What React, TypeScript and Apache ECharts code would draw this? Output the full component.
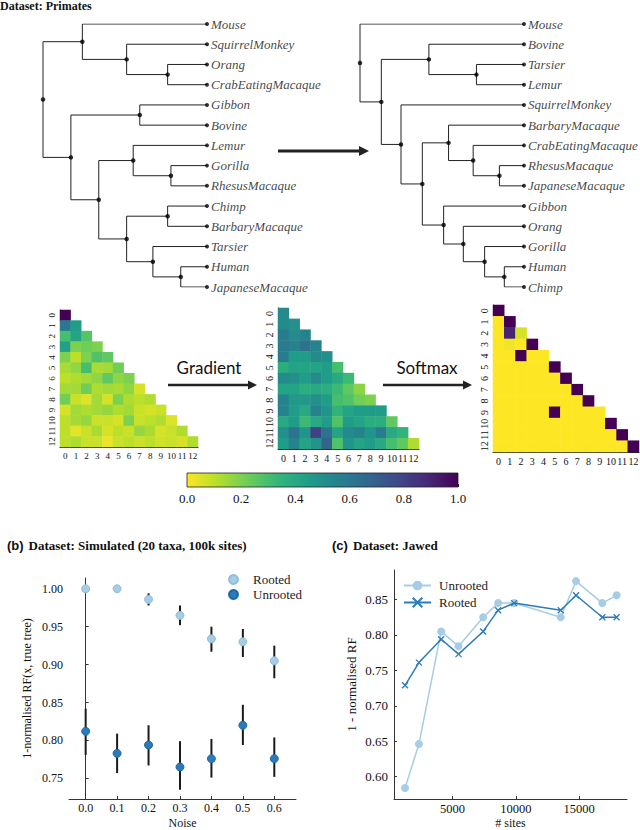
import React, { useEffect, useRef } from 'react';
import * as echarts from 'echarts';

// ---------- data ----------
type T = string | [number, T, T];
// [branch depth (0 = root, 1 = leaves), child, child]
const TREE_BEFORE: T = [0,
  [0.24, 'Mouse', [0.51, 'SquirrelMonkey', [0.76, 'Orang', 'CrabEatingMacaque']]],
  [0.17, [0.59, 'Gibbon', 'Bovine'],
    [0.34, [0.55, 'Lemur', [0.78, 'Gorilla', 'RhesusMacaque']],
      [0.51, [0.76, 'Chimp', 'BarbaryMacaque'], [0.67, 'Tarsier', [0.84, 'Human', 'JapaneseMacaque']]]]]];
const TREE_AFTER: T = [0, 'Mouse',
  [0.13, [0.42, 'Bovine', [0.71, 'Tarsier', 'Lemur']],
    [0.25, 'SquirrelMonkey',
      [0.38, [0.54, 'BarbaryMacaque', [0.69, 'CrabEatingMacaque', [0.85, 'RhesusMacaque', 'JapaneseMacaque']]],
        [0.51, 'Gibbon', [0.63, 'Orang', [0.76, 'Gorilla', [0.88, 'Human', 'Chimp']]]]]]]];

const HEAT_LABELS = ['0', '1', '2', '3', '4', '5', '6', '7', '8', '9', '10', '11', '12'];
const HEAT_INPUT = [
  [1.0],
  [0.6, 0.45],
  [0.3, 0.42, 0.27],
  [0.43, 0.2, 0.22, 0.2],
  [0.2, 0.1, 0.2, 0.28, 0.25],
  [0.13, 0.17, 0.3, 0.13, 0.14, 0.22],
  [0.1, 0.12, 0.14, 0.17, 0.25, 0.17, 0.2],
  [0.14, 0.14, 0.22, 0.12, 0.14, 0.13, 0.17, 0.06],
  [0.22, 0.08, 0.05, 0.14, 0.06, 0.2, 0.12, 0.1, 0.12],
  [0.06, 0.14, 0.12, 0.14, 0.16, 0.12, 0.14, 0.08, 0.06, 0.08],
  [0.1, 0.14, 0.16, 0.08, 0.08, 0.06, 0.2, 0.08, 0.1, 0.12, 0.05],
  [0.1, 0.04, 0.08, 0.13, 0.06, 0.1, 0.08, 0.16, 0.13, 0.06, 0.08, 0.12],
  [0.1, 0.12, 0.08, 0.08, 0.03, 0.08, 0.1, 0.08, 0.1, 0.07, 0.08, 0.06, 0.12],
];
const HEAT_GRADIENT = [
  [0.52],
  [0.52, 0.5],
  [0.58, 0.52, 0.55],
  [0.58, 0.55, 0.62, 0.55],
  [0.58, 0.45, 0.45, 0.52, 0.5],
  [0.38, 0.42, 0.42, 0.42, 0.45, 0.3],
  [0.52, 0.5, 0.45, 0.52, 0.45, 0.4, 0.32],
  [0.42, 0.42, 0.38, 0.4, 0.38, 0.32, 0.25, 0.18],
  [0.55, 0.47, 0.47, 0.5, 0.45, 0.3, 0.28, 0.22, 0.2],
  [0.55, 0.45, 0.4, 0.55, 0.48, 0.35, 0.42, 0.45, 0.45, 0.45],
  [0.4, 0.45, 0.32, 0.4, 0.45, 0.28, 0.45, 0.42, 0.38, 0.38, 0.25],
  [0.5, 0.62, 0.48, 0.8, 0.62, 0.42, 0.52, 0.55, 0.48, 0.58, 0.4, 0.35],
  [0.45, 0.55, 0.42, 0.48, 0.68, 0.28, 0.48, 0.42, 0.45, 0.4, 0.3, 0.25, 0.12],
];
const HEAT_SOFTMAX = [
  [1],
  [0, 1],
  [0, 0.9, 0.06],
  [0, 0.02, 0, 1],
  [0, 0, 1, 0, 0],
  [0, 0, 0, 0, 0, 1],
  [0, 0, 0, 0, 0, 0, 1],
  [0, 0, 0, 0, 0, 0, 0, 1],
  [0, 0, 0, 0, 0, 0, 0, 0, 1],
  [0, 0, 0, 0, 0, 1, 0, 0, 0, 0],
  [0, 0, 0, 0, 0, 0, 0, 0, 0, 0, 1],
  [0, 0, 0, 0, 0, 0, 0, 0, 0, 0, 0, 1],
  [0, 0, 0, 0, 0, 0, 0, 0, 0, 0, 0, 0, 1],
];
const VIRIDIS_R = ['#fde725', '#b5de2b', '#6ece58', '#35b779', '#1f9e89', '#26828e', '#31688e', '#3e4989', '#482878', '#440154'];

const NOISE = [0, 0.1, 0.2, 0.3, 0.4, 0.5, 0.6];
const ROOTED_MEAN = [1.0, 1.0, 0.986, 0.965, 0.934, 0.93, 0.905];
const ROOTED_LOW = [1.0, 1.0, 0.978, 0.952, 0.917, 0.91, 0.882];
const ROOTED_HIGH = [1.0, 1.0, 0.994, 0.978, 0.95, 0.947, 0.925];
const UNROOTED_MEAN = [0.812, 0.783, 0.794, 0.765, 0.776, 0.82, 0.776];
const UNROOTED_LOW = [0.781, 0.757, 0.767, 0.735, 0.751, 0.794, 0.752];
const UNROOTED_HIGH = [0.842, 0.809, 0.82, 0.799, 0.802, 0.847, 0.804];
const NOISE_TICKS = [0, 0.1, 0.2, 0.3, 0.4, 0.5, 0.6];
const RF_TICKS_B = [0.75, 0.8, 0.85, 0.9, 0.95, 1.0];

const SITES = [1240, 2340, 4100, 5470, 7420, 8600, 9870, 13550, 14760, 16840, 17970];
const JAWED_UNROOTED = [0.584, 0.646, 0.805, 0.784, 0.825, 0.845, 0.845, 0.825, 0.876, 0.845, 0.856];
const JAWED_ROOTED = [0.729, 0.761, 0.794, 0.773, 0.805, 0.835, 0.845, 0.835, 0.856, 0.825, 0.825];
const SITE_TICKS = [5000, 10000, 15000];
const RF_TICKS_C = [0.6, 0.65, 0.7, 0.75, 0.8, 0.85];

// ---------- helpers ----------
const SERIF = 'Liberation Serif, DejaVu Serif, serif';
const LIGHT = '#a6cde4';
const DARK = '#2b7bba';

function layoutTree(t: T) {
  const edges: number[][][] = [];
  const nodes: number[][] = [];
  const leaves: any[][] = [];
  let idx = 0;
  const rec = (n: T): number[] => {
    if (typeof n === 'string') {
      const p = [1, idx++];
      leaves.push([p[0], p[1], n]);
      return p;
    }
    const [d, a, b] = n;
    const pa = rec(a);
    const pb = rec(b);
    const y = (pa[1] + pb[1]) / 2;
    edges.push([[d, y], [d, pa[1]], [pa[0], pa[1]]]);
    edges.push([[d, y], [d, pb[1]], [pb[0], pb[1]]]);
    nodes.push([d, y]);
    return [d, y];
  };
  rec(t);
  return { edges, nodes, leaves };
}

function triData(rows: number[][]) {
  const out: number[][] = [];
  rows.forEach((r, i) => r.forEach((v, j) => out.push([j, i, v])));
  return out;
}

function buildOption() {
  const grids: any[] = [];
  const xAxes: any[] = [];
  const yAxes: any[] = [];
  const series: any[] = [];

  const addGrid = (g: any) => {
    grids.push({ ...g, containLabel: false, outerBoundsMode: 'none' });
    return grids.length - 1;
  };

  // ---- trees ----
  const treeGrid = (left: number, tree: T) => {
    const gi = addGrid({ left, top: 24, width: 164, height: 263 });
    xAxes.push({ gridIndex: gi, type: 'value', min: 0, max: 1, show: false });
    yAxes.push({ gridIndex: gi, type: 'value', min: 0, max: 13, inverse: true, show: false });
    const ai = xAxes.length - 1;
    const lay = layoutTree(tree);
    series.push({
      type: 'lines', coordinateSystem: 'cartesian2d', xAxisIndex: ai, yAxisIndex: ai,
      polyline: true, silent: true,
      lineStyle: { color: '#222', width: 1, opacity: 1 },
      data: lay.edges.map((c) => ({ coords: c })),
    });
    series.push({
      type: 'scatter', xAxisIndex: ai, yAxisIndex: ai, symbolSize: 4.5, clip: false, silent: true,
      itemStyle: { color: '#000' }, data: lay.nodes,
    });
    series.push({
      type: 'scatter', xAxisIndex: ai, yAxisIndex: ai, symbolSize: 4, clip: false, silent: true,
      itemStyle: { color: '#000' }, data: lay.leaves,
      label: {
        show: true, position: 'right', distance: 2, formatter: (p: any) => p.data[2],
        fontFamily: 'Liberation Serif', fontStyle: 'italic', fontSize: 13, color: '#111',
      },
    });
  };
  treeGrid(43, TREE_BEFORE);
  treeGrid(360, TREE_AFTER);

  // ---- heatmaps ----
  const heatIdx: number[] = [];
  const heat = (rect: any, rows: number[][], fs: number) => {
    const gi = addGrid(rect);
    const common = {
      gridIndex: gi, type: 'category', data: HEAT_LABELS,
      axisLine: { show: true, lineStyle: { color: '#222', width: 1 } },
      axisTick: { show: true, inside: true, length: 2, alignWithLabel: true, lineStyle: { color: '#222' } },
      splitLine: { show: false },
    };
    xAxes.push({ ...common, axisLabel: { interval: 0, hideOverlap: false, margin: 4, fontFamily: SERIF, fontSize: fs, color: '#111' } });
    yAxes.push({ ...common, inverse: true, axisLabel: { interval: 0, hideOverlap: false, rotate: 90, margin: 4, fontFamily: SERIF, fontSize: fs, color: '#111' } });
    const ai = xAxes.length - 1;
    series.push({ type: 'heatmap', xAxisIndex: ai, yAxisIndex: ai, silent: true, data: triData(rows) });
    heatIdx.push(series.length - 1);
  };
  heat({ left: 60, top: 310, width: 138, height: 137 }, HEAT_INPUT, 9);
  heat({ left: 278, top: 308, width: 141, height: 141 }, HEAT_GRADIENT, 10);
  heat({ left: 493, top: 305, width: 146, height: 147 }, HEAT_SOFTMAX, 10);

  // ---- colorbar ----
  {
    const gi = addGrid({ left: 187, top: 473, width: 271, height: 14 });
    xAxes.push({
      gridIndex: gi, type: 'value', min: 0, max: 1, interval: 0.2,
      axisLine: { show: false }, splitLine: { show: false },
      axisTick: { show: true, inside: true, length: 3, lineStyle: { color: '#222' } },
      minorTick: { show: true, splitNumber: 4, length: 3, lineStyle: { color: '#222' } },
      axisLabel: { margin: 5, fontFamily: SERIF, fontSize: 13, color: '#111', formatter: (v: number) => v.toFixed(1) },
    });
    yAxes.push({ gridIndex: gi, type: 'value', min: 0, max: 1, show: false });
    const ai = xAxes.length - 1;
    series.push({
      type: 'custom', xAxisIndex: ai, yAxisIndex: ai, silent: true, z: 1,
      data: [[0, 0]],
      renderItem: (_p: any, api: any) => {
        const a = api.coord([0, 1]);
        const b = api.coord([1, 0]);
        return {
          type: 'rect',
          shape: { x: a[0], y: a[1], width: b[0] - a[0], height: b[1] - a[1] },
          style: {
            fill: new echarts.graphic.LinearGradient(0, 0, 1, 0,
              VIRIDIS_R.map((c, i) => ({ offset: i / (VIRIDIS_R.length - 1), color: c }))),
            stroke: '#222', lineWidth: 0.8,
          },
        };
      },
    });
  }

  // ---- chart (b) ----
  const axisCommon = () => ({
    axisLine: { show: true, lineStyle: { color: '#333', width: 1 } },
    splitLine: { show: false },
    nameMoveOverlap: false,
    nameTextStyle: { fontFamily: SERIF, fontSize: 12, color: '#111' },
  });
  {
    const gi = addGrid({ left: 69, top: 578, width: 227, height: 221 });
    xAxes.push({
      gridIndex: gi, type: 'value', min: -0.053, max: 0.669, ...axisCommon(),
      name: 'Noise', nameLocation: 'middle', nameGap: 17.5,
      axisTick: { show: true, inside: true, length: 3, customValues: NOISE_TICKS, lineStyle: { color: '#333' } },
      axisLabel: { customValues: NOISE_TICKS, margin: 3, fontFamily: SERIF, fontSize: 12, color: '#111', formatter: (v: number) => v.toFixed(1) },
    });
    yAxes.push({
      gridIndex: gi, type: 'value', min: 0.7228, max: 1.0142, ...axisCommon(),
      name: '1-normalised RF(x, true tree)', nameLocation: 'middle', nameGap: 36, nameRotate: 90,
      axisTick: { show: true, inside: true, length: 3, customValues: RF_TICKS_B, lineStyle: { color: '#333' } },
      axisLabel: { customValues: RF_TICKS_B, margin: 6, fontFamily: SERIF, fontSize: 12, color: '#111', formatter: (v: number) => v.toFixed(2) },
    });
    const ai = xAxes.length - 1;
    const errRender = (_p: any, api: any) => {
      const lo = api.coord([api.value(0), api.value(1)]);
      const hi = api.coord([api.value(0), api.value(2)]);
      return { type: 'line', shape: { x1: lo[0], y1: lo[1], x2: hi[0], y2: hi[1] }, style: { stroke: '#1a1a1a', lineWidth: 2 } };
    };
    series.push({
      type: 'custom', xAxisIndex: ai, yAxisIndex: ai, silent: true, renderItem: errRender,
      data: NOISE.map((x, i) => [x, ROOTED_LOW[i], ROOTED_HIGH[i]]),
    });
    series.push({
      type: 'custom', xAxisIndex: ai, yAxisIndex: ai, silent: true, renderItem: errRender,
      data: NOISE.map((x, i) => [x, UNROOTED_LOW[i], UNROOTED_HIGH[i]]),
    });
    series.push({
      name: 'Rooted', type: 'scatter', xAxisIndex: ai, yAxisIndex: ai, symbolSize: 8, clip: false, z: 3,
      itemStyle: { color: LIGHT, borderColor: '#8dbedc', borderWidth: 1, opacity: 1 },
      data: NOISE.map((x, i) => [x, ROOTED_MEAN[i]]),
    });
    series.push({
      name: 'Unrooted', type: 'scatter', xAxisIndex: ai, yAxisIndex: ai, symbolSize: 8, clip: false, z: 3,
      itemStyle: { color: DARK, borderColor: '#1f68a3', borderWidth: 1, opacity: 1 },
      data: NOISE.map((x, i) => [x, UNROOTED_MEAN[i]]),
    });
  }

  // ---- chart (c) ----
  {
    const gi = addGrid({ left: 394, top: 570, width: 233, height: 229 });
    xAxes.push({
      gridIndex: gi, type: 'value', min: 368, max: 18790, ...axisCommon(),
      name: '# sites', nameLocation: 'middle', nameGap: 17.5,
      axisTick: { show: true, inside: true, length: 3, customValues: SITE_TICKS, lineStyle: { color: '#333' } },
      axisLabel: { customValues: SITE_TICKS, margin: 3, fontFamily: SERIF, fontSize: 12.5, color: '#111', formatter: (v: number) => String(v) },
    });
    yAxes.push({
      gridIndex: gi, type: 'value', min: 0.5685, max: 0.8917, ...axisCommon(),
      name: '1 - normalised RF', nameLocation: 'middle', nameGap: 36, nameRotate: 90,
      nameTextStyle: { fontFamily: SERIF, fontSize: 13, color: '#111' },
      axisTick: { show: true, inside: true, length: 3, customValues: RF_TICKS_C, lineStyle: { color: '#333' } },
      axisLabel: { customValues: RF_TICKS_C, margin: 6, fontFamily: SERIF, fontSize: 13, color: '#111', formatter: (v: number) => v.toFixed(2) },
    });
    const ai = xAxes.length - 1;
    series.push({
      name: 'Unrooted (c)', type: 'line', xAxisIndex: ai, yAxisIndex: ai, symbol: 'circle', symbolSize: 8,
      lineStyle: { color: LIGHT, width: 1.5 }, itemStyle: { color: LIGHT, borderWidth: 0 },
      data: SITES.map((x, i) => [x, JAWED_UNROOTED[i]]), z: 3,
    });
    series.push({
      name: 'Rooted (c)', type: 'line', xAxisIndex: ai, yAxisIndex: ai,
      symbol: 'path://M0,0L10,10M10,0L0,10', symbolSize: 6,
      lineStyle: { color: DARK, width: 1.5 }, itemStyle: { color: DARK, borderColor: DARK, borderWidth: 1.3 },
      data: SITES.map((x, i) => [x, JAWED_ROOTED[i]]), z: 4,
    });
  }

  return {
    animation: false,
    backgroundColor: '#fff',
    title: [
      { text: 'Dataset: Primates', left: 0, top: 0, padding: 0, textStyle: { fontFamily: SERIF, fontWeight: 'bold', fontSize: 12, color: '#111' } },
      {
        text: '{s|(b)} {t|Dataset: Simulated (20 taxa, 100k sites)}', left: 7, top: 536, padding: 0,
        textStyle: { rich: { s: { fontFamily: 'Liberation Sans, Arial, sans-serif', fontWeight: 'bold', fontSize: 13, color: '#111' }, t: { fontFamily: SERIF, fontWeight: 'bold', fontSize: 13, color: '#111' } } },
      },
      {
        text: '{s|(c)} {t|Dataset: Jawed}', left: 332, top: 536, padding: 0,
        textStyle: { rich: { s: { fontFamily: 'Liberation Sans, Arial, sans-serif', fontWeight: 'bold', fontSize: 13, color: '#111' }, t: { fontFamily: SERIF, fontWeight: 'bold', fontSize: 13, color: '#111' } } },
      },
    ],
    legend: [
      {
        data: ['Rooted', 'Unrooted'], left: 228, top: 573, padding: 0, orient: 'vertical', itemWidth: 9, itemHeight: 9, itemGap: 2,
        selectedMode: false, textStyle: { fontFamily: SERIF, fontSize: 13, color: '#222', padding: [0, 0, 0, 10] },
      },
      {
        data: ['Unrooted (c)', 'Rooted (c)'], left: 403, top: 579, padding: 0, orient: 'vertical', itemWidth: 27, itemHeight: 12, itemGap: 4,
        selectedMode: false, formatter: (n: string) => n.replace(' (c)', ''),
        textStyle: { fontFamily: SERIF, fontSize: 13, color: '#222', padding: [0, 0, 0, 3] },
      },
    ],
    visualMap: [{
      type: 'continuous', min: 0, max: 1, show: false, dimension: 2, seriesIndex: heatIdx,
      inRange: { color: VIRIDIS_R },
    }],
    grid: grids,
    xAxis: xAxes,
    yAxis: yAxes,
    series,
    graphic: [
      { type: 'line', shape: { x1: 278, y1: 151, x2: 361, y2: 151 }, style: { stroke: '#222', lineWidth: 3 } },
      { type: 'polygon', shape: { points: [[359, 146], [369, 151], [359, 156]] }, style: { fill: '#222' } },
      { type: 'text', x: 209, y: 367, style: { text: 'Gradient', fontFamily: 'Lato, Open Sans, sans-serif', fontSize: 17, fill: '#111', align: 'center', verticalAlign: 'middle' } },
      { type: 'line', shape: { x1: 168, y1: 385, x2: 250, y2: 385 }, style: { stroke: '#222', lineWidth: 2.5 } },
      { type: 'polygon', shape: { points: [[248, 380.5], [257, 385], [248, 389.5]] }, style: { fill: '#222' } },
      { type: 'text', x: 427, y: 367, style: { text: 'Softmax', fontFamily: 'Lato, Open Sans, sans-serif', fontSize: 17, fill: '#111', align: 'center', verticalAlign: 'middle' } },
      { type: 'line', shape: { x1: 383, y1: 385, x2: 465, y2: 385 }, style: { stroke: '#222', lineWidth: 2.5 } },
      { type: 'polygon', shape: { points: [[463, 380.5], [472, 385], [463, 389.5]] }, style: { fill: '#222' } },
    ],
  };
}

export default function App() {
  const ref = useRef<HTMLDivElement>(null);
  useEffect(() => {
    if (!ref.current) return;
    const chart = echarts.init(ref.current, null, { renderer: 'svg' });
    chart.setOption(buildOption() as any);
    return () => chart.dispose();
  }, []);
  return <div ref={ref} style={{ position: 'absolute', left: 0, top: 0, width: 640, height: 830, background: '#fff' }} />;
}
